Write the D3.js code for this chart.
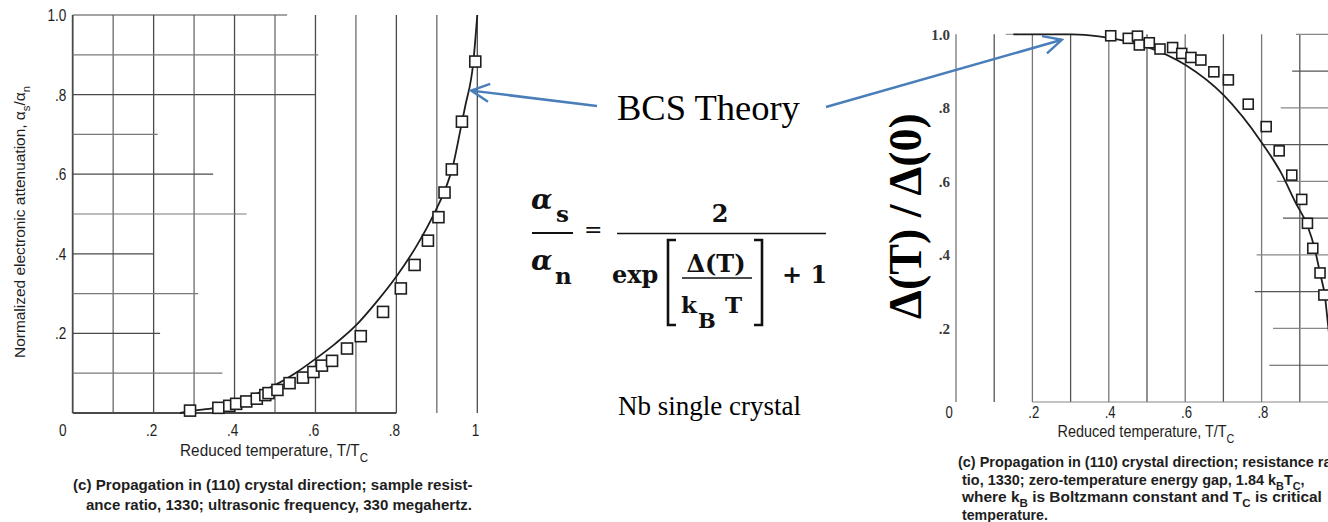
<!DOCTYPE html>
<html>
<head>
<meta charset="utf-8">
<script src="https://cdn.jsdelivr.net/npm/d3@7"></script>
<style>
  body { margin: 0; background: #fff; }
</style>
</head>
<body>
<div id="chart"></div>
<script>
// tick values shared by both panels
const xTicks = [0, 0.2, 0.4, 0.6, 0.8, 1]
const yTicks = [0.2, 0.4, 0.6, 0.8, 1]

// left panel: normalized electronic attenuation a_s/a_n vs T/Tc
const attenT = [0.29, 0.36, 0.387, 0.404, 0.429, 0.455, 0.476, 0.484, 0.506, 0.536, 0.569, 0.595, 0.616, 0.641, 0.678, 0.712, 0.767, 0.811, 0.845, 0.878, 0.904, 0.919, 0.937, 0.962, 0.995]
const attenRatio = [0.006, 0.013, 0.018, 0.023, 0.029, 0.036, 0.045, 0.05, 0.058, 0.075, 0.089, 0.103, 0.119, 0.131, 0.162, 0.193, 0.254, 0.313, 0.372, 0.433, 0.492, 0.554, 0.612, 0.732, 0.883]
const attenCurveT = [0.265, 0.3, 0.35, 0.4, 0.45, 0.5, 0.55, 0.6, 0.65, 0.7, 0.75, 0.8, 0.85, 0.9, 0.92, 0.94, 0.96, 0.97, 0.99, 1.0]
const attenCurveRatio = [0, 0.006, 0.013, 0.028, 0.046, 0.07, 0.1, 0.136, 0.175, 0.22, 0.278, 0.343, 0.42, 0.515, 0.56, 0.622, 0.72, 0.77, 0.88, 1.0]

// right panel: energy gap D(T)/D(0) vs T/Tc
const gapT = [0.405, 0.451, 0.475, 0.48, 0.506, 0.534, 0.567, 0.591, 0.615, 0.641, 0.675, 0.713, 0.765, 0.812, 0.846, 0.879, 0.905, 0.92, 0.934, 0.953, 0.963]
const gapRatio = [0.996, 0.989, 0.995, 0.971, 0.977, 0.96, 0.964, 0.948, 0.937, 0.93, 0.898, 0.876, 0.81, 0.749, 0.683, 0.617, 0.551, 0.486, 0.418, 0.351, 0.291]
const gapCurveT = [0.15, 0.3, 0.35, 0.4, 0.5, 0.6, 0.7, 0.8, 0.85, 0.89, 0.92, 0.94, 0.953, 0.966, 0.975, 0.985, 1.0]
const gapCurveRatio = [1.0, 1.0, 0.997, 0.99, 0.966, 0.917, 0.835, 0.706, 0.625, 0.54, 0.48, 0.413, 0.35, 0.286, 0.2, 0.12, 0]

// partial horizontal rulings left over in the scans (row value, where the line stops / starts)
const leftRows = [1.0, 0.9, 0.8, 0.7, 0.6, 0.5, 0.4, 0.3, 0.2, 0.1, 0]
const leftRowEnds = [0.53, 0.607, 0.6, 0.21, 0.347, 0.43, 0.2, 0.31, 0.216, 0.37, 0.8]
const rightRows = [1.0, 0.9, 0.8, 0.7, 0.6, 0.5, 0.4, 0.3, 0.2, 0.1, 0]
const rightRowStarts = [0.89, 0.88, 0.85, 0.8, 0.84, 0.856, 0.787, 0.782, 0.83, 0.82, 0.2]

const scanFont = "'Liberation Sans',Arial,sans-serif"
const serif = "'Liberation Serif','Times New Roman',serif"
const mathFont = "'DejaVu Serif',serif"
const ink = "#1e1e1e"
const gridInk = "#4a4a4a"
const blue = "#4a7ebb"

const svg = d3.select("#chart").append("svg")
    .attr("width", 1328)
    .attr("height", 522)

svg.append("defs").append("marker")
    .attr("id", "openHead")
    .attr("viewBox", "0 0 20 20")
    .attr("refX", 18).attr("refY", 10)
    .attr("markerWidth", 9).attr("markerHeight", 9)
    .attr("markerUnits", "strokeWidth")
    .attr("orient", "auto")
    .append("path")
    .attr("d", "M2,2 L18,10 L2,18")
    .attr("fill", "none")
    .attr("stroke", blue)
    .attr("stroke-width", 2.2)

var tickFmt = d => d === 0 ? "0" : d === 1 ? "1" : d3.format(".1f")(d).replace(/^0/, "")

// scanned labels use a narrow typewriter face: squeeze a normal face to the measured width
function scanLabel(g, base, width, size, anchor, parts, weight) {
    var t = g.append("text")
        .attr("text-anchor", anchor)
        .attr("font-family", scanFont)
        .attr("font-size", size)
        .attr("font-weight", weight || "normal")
        .attr("fill", ink)
    parts.forEach(p => {
        t.append("tspan")
            .attr("dy", p[1] * size * 0.35)
            .attr("font-size", p[1] === 1 ? size * 0.75 : null)
            .text(p[0])
    })
    var w = t.node().getComputedTextLength()
    t.attr("transform", base + " scale(" + (width / w) + ",1)")
    return t
}

function square(g, xs, ys, tVals, rVals, size) {
    g.selectAll("rect.pt")
        .data(tVals.map((t, i) => [t, rVals[i]]))
        .join("rect")
        .attr("class", "pt")
        .attr("x", d => xs(d[0]) - size / 2)
        .attr("y", d => ys(d[1]) - size / 2)
        .attr("width", size)
        .attr("height", size)
        .attr("fill", "#fff")
        .attr("stroke", ink)
        .attr("stroke-width", 1.6)
}

// ---------------- left panel ----------------
var xL = d3.scaleLinear().domain([0, 1]).range([72.7, 477.3])
var yL = d3.scaleLinear().domain([0, 1]).range([413, 15])
const left = svg.append("g")

left.selectAll("line.vg")
    .data(d3.range(0, 11).map(i => i / 10))
    .join("line")
    .attr("class", "vg")
    .attr("x1", d => xL(d)).attr("x2", d => xL(d))
    .attr("y1", yL(0)).attr("y2", yL(1))
    .attr("stroke", (d, i) => i % 2 ? "#6a6a6a" : gridInk)
    .attr("stroke-width", (d, i) => i === 0 ? 1.8 : 1.3)

left.selectAll("line.hg")
    .data(leftRows)
    .join("line")
    .attr("class", "hg")
    .attr("x1", xL(0)).attr("x2", (d, i) => xL(leftRowEnds[i]))
    .attr("y1", d => yL(d)).attr("y2", d => yL(d))
    .attr("stroke", (d, i) => i % 2 ? "#7a7a7a" : gridInk)
    .attr("stroke-width", (d, i) => d === 0 ? 1.8 : 1.2)

left.append("path")
    .datum(attenCurveT.map((t, i) => [t, attenCurveRatio[i]]))
    .attr("fill", "none")
    .attr("stroke", ink)
    .attr("stroke-width", 1.8)
    .attr("d", d3.line().x(d => xL(d[0])).y(d => yL(d[1])).curve(d3.curveMonotoneX))

square(left, xL, yL, attenT, attenRatio, 11)

var yAxisL = left.append("g")
    .attr("transform", "translate(" + xL(0) + ",0)")
    .call(d3.axisLeft(yL).tickValues(yTicks).tickFormat(d => d === 1 ? "1.0" : tickFmt(d)).tickSize(0).tickPadding(8))
yAxisL.select(".domain").remove()
yAxisL.attr("font-family", scanFont).attr("font-size", 17)
yAxisL.selectAll("text").attr("fill", ink).attr("transform", "scale(0.8,1)")

var xAxisL = left.append("g")
    .attr("transform", "translate(0," + yL(0) + ")")
    .call(d3.axisBottom(xL).tickValues(xTicks).tickFormat(tickFmt).tickSize(0).tickPadding(11))
xAxisL.select(".domain").remove()
xAxisL.attr("font-family", scanFont).attr("font-size", 17)
xAxisL.selectAll("text").attr("fill", ink).attr("dx", d => d === 0 ? -13 : -3).attr("transform", "scale(0.8,1)")

// rotated axis title, reading upward from just above the x labels
left.append("text")
    .attr("transform", "translate(25,358) rotate(-90)")
    .attr("font-family", scanFont)
    .attr("font-size", 15)
    .attr("fill", ink)
    .attr("textLength", 272)
    .attr("lengthAdjust", "spacingAndGlyphs")
    .call(t => {
        t.append("tspan").text("Normalized electronic attenuation,  α")
        t.append("tspan").attr("font-size", 11).attr("dy", 5).text("s")
        t.append("tspan").attr("dy", -5).text("/α")
        t.append("tspan").attr("font-size", 11).attr("dy", 5).text("n")
    })

scanLabel(left, "translate(274,456)", 188, 17, "middle",
    [["Reduced temperature,  T/T", 0], ["C", 1]])

scanLabel(left, "translate(73,490)", 400, 15, "start",
    [["(c) Propagation in (110) crystal direction;  sample resist-", 0]], "bold")
scanLabel(left, "translate(86,510)", 386, 15, "start",
    [["ance ratio, 1330; ultrasonic frequency, 330 megahertz.", 0]], "bold")

// ---------------- right panel ----------------
var xR = d3.scaleLinear().domain([0, 1]).range([956, 1338])
var yR = d3.scaleLinear().domain([0, 1]).range([402, 34.3])
const right = svg.append("g")

right.selectAll("line.vg")
    .data(d3.range(0, 11).map(i => i / 10))
    .join("line")
    .attr("class", "vg")
    .attr("x1", d => xR(d)).attr("x2", d => xR(d))
    .attr("y1", yR(0)).attr("y2", yR(1))
    .attr("stroke", (d, i) => i % 2 ? "#555" : "#777")
    .attr("stroke-width", 1.3)

right.selectAll("line.hg")
    .data(rightRows)
    .join("line")
    .attr("class", "hg")
    .attr("x1", (d, i) => xR(rightRowStarts[i])).attr("x2", xR(1))
    .attr("y1", d => yR(d)).attr("y2", d => yR(d))
    .attr("stroke", (d, i) => i % 2 ? "#555" : "#888")
    .attr("stroke-width", 1.2)

right.append("line")
    .attr("x1", xR(0.13)).attr("x2", xR(0.32))
    .attr("y1", yR(1)).attr("y2", yR(1))
    .attr("stroke", "#888")
    .attr("stroke-width", 1)
    .attr("stroke-dasharray", "14,3,4,3")

right.append("path")
    .datum(gapCurveT.map((t, i) => [t, gapCurveRatio[i]]))
    .attr("fill", "none")
    .attr("stroke", ink)
    .attr("stroke-width", 1.8)
    .attr("d", d3.line().x(d => xR(d[0])).y(d => yR(d[1])).curve(d3.curveMonotoneX))

square(right, xR, yR, gapT, gapRatio, 10)

var yAxisR = right.append("g")
    .attr("transform", "translate(" + xR(0) + ",0)")
    .call(d3.axisLeft(yR).tickValues(yTicks).tickFormat(d => d === 1 ? "1.0" : tickFmt(d)).tickSize(0).tickPadding(6))
yAxisR.select(".domain").remove()
yAxisR.attr("font-family", serif).attr("font-size", 15).attr("font-weight", "bold")
yAxisR.selectAll("text").attr("fill", "#3a3a3a")

var xAxisR = right.append("g")
    .attr("transform", "translate(0," + yR(0) + ")")
    .call(d3.axisBottom(xR).tickValues(xTicks.slice(0, 5)).tickFormat(tickFmt).tickSize(0).tickPadding(5))
xAxisR.select(".domain").remove()
xAxisR.attr("font-family", scanFont).attr("font-size", 16)
xAxisR.selectAll("text").attr("fill", ink).attr("dx", d => d === 0 ? -9 : 1).attr("transform", "scale(0.82,1)")

scanLabel(right, "translate(1146,437)", 177, 16, "middle",
    [["Reduced temperature,  T/T", 0], ["C", 1]])

const rightCaption = [
    [["(c) Propagation in (110) crystal direction;  resistance ra", 0]],
    [["tio, 1330;  zero-temperature energy gap,  1.84 k", 0], ["B", 1], ["T", -1], ["C", 1], [",", -1]],
    [["where  k", 0], ["B", 1], ["  is Boltzmann constant and  T", -1], ["C", 1], ["  is critical", -1]],
    [["temperature.", 0]]
]
const rightCapWidths = [374, 343, 360, 86]
rightCaption.forEach((parts, i) => {
    scanLabel(right, "translate(" + (i ? 962 : 958) + "," + (467 + i * 17.5) + ")",
        rightCapWidths[i], 15, "start", parts, "bold")
})

right.append("text")
    .attr("transform", "translate(921,216) rotate(-90)")
    .attr("text-anchor", "middle")
    .attr("font-family", serif)
    .attr("font-weight", "bold")
    .attr("font-size", 46)
    .attr("fill", "#000")
    .text("Δ(T) / Δ(0)")

// ---------------- middle annotations ----------------
const mid = svg.append("g")

mid.append("text")
    .attr("x", 617).attr("y", 120)
    .attr("font-family", serif)
    .attr("font-size", 36.5)
    .attr("fill", "#000")
    .text("BCS Theory")

mid.append("text")
    .attr("x", 618).attr("y", 415)
    .attr("font-family", serif)
    .attr("font-size", 27)
    .attr("fill", "#000")
    .text("Nb single crystal")

mid.append("line")
    .attr("x1", 597).attr("y1", 106)
    .attr("x2", xL(0.985)).attr("y2", yL(0.81))
    .attr("stroke", blue).attr("stroke-width", 2.5)
    .attr("marker-end", "url(#openHead)")

mid.append("line")
    .attr("x1", 826).attr("y1", 107)
    .attr("x2", xR(0.277)).attr("y2", yR(0.985))
    .attr("stroke", blue).attr("stroke-width", 2.5)
    .attr("marker-end", "url(#openHead)")

// formula  a_s / a_n = 2 / (exp[D(T)/k_B T] + 1)
const eq = mid.append("g")
    .attr("font-family", mathFont)
    .attr("font-weight", "bold")
    .attr("fill", "#111")

function txt(x, y, s, size, extra) {
    var t = eq.append("text").attr("x", x).attr("y", y).attr("font-size", size).text(s)
    if (extra) extra(t)
    return t
}
function bar(x1, x2, y, w) {
    eq.append("line").attr("x1", x1).attr("x2", x2).attr("y1", y).attr("y2", y)
        .attr("stroke", "#111").attr("stroke-width", w)
}

txt(531, 209, "α", 28, t => t.attr("font-style", "italic"))
txt(556, 222, "s", 23)
bar(532, 573, 233, 2)
txt(531, 270, "α", 28, t => t.attr("font-style", "italic"))
txt(555, 284, "n", 23)
txt(584, 237, "=", 22, t => t.attr("font-weight", "normal"))
bar(617, 826, 233.5, 1.6)
txt(720, 222, "2", 24, t => t.attr("text-anchor", "middle"))
txt(612, 283, "exp", 24)
eq.append("path")
    .attr("d", "M676,240 L668,240 L668,325 L676,325")
    .attr("fill", "none").attr("stroke", "#111").attr("stroke-width", 2.6)
eq.append("path")
    .attr("d", "M754,240 L762,240 L762,325 L754,325")
    .attr("fill", "none").attr("stroke", "#111").attr("stroke-width", 2.6)
txt(716, 272, "Δ(T)", 24, t => t.attr("text-anchor", "middle"))
bar(682, 752, 278, 1.6)
txt(681, 313, "k", 23)
txt(698, 328, "B", 21)
txt(725, 313, "T", 23)
txt(782, 283, "+ 1", 24)
</script>
</body>
</html>
